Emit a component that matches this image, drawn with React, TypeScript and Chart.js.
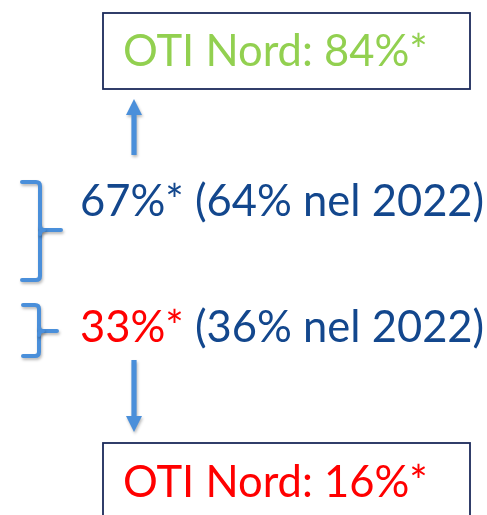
import React, { useEffect, useRef } from "react";
import { Chart, registerables } from "chart.js";

Chart.register(...registerables);

// ---- data ----
const groupLabel = "OTI Nord";
const otiNordShares = [84, 16]; // upper box, lower box
const shares2023 = [67, 33];
const shares2022 = [64, 36];
const compareYear = "2022";

// ---- styles ----
const GREEN = "#92D050";
const RED = "#FF0000";
const NAVY_TEXT = "#13478D";
const BOX_BORDER = "#1B2A5A";
const ARROW_BLUE = "#4A8FDA";
const FONT = "Lato, 'Open Sans', sans-serif";
const FONT_SIZE = 43.5;

const W = 487;
const H = 515;

const annotationPlugin = {
  id: "annotations",
  afterDraw(chart: any) {
    const { ctx } = chart;
    const xs = chart.scales.x;
    const ys = chart.scales.y;
    const px = (v: number) => xs.getPixelForValue(v);
    const py = (v: number) => ys.getPixelForValue(v);

    ctx.save();

    // boxes
    const drawBox = (x0: number, y0: number, x1: number, y1: number) => {
      ctx.save();
      ctx.strokeStyle = BOX_BORDER;
      ctx.lineWidth = 1.8;
      ctx.strokeRect(px(x0), py(y0), px(x1) - px(x0), py(y1) - py(y0));
      ctx.restore();
    };
    drawBox(103, 13, 470, 89);
    drawBox(103, 443, 470, 540);

    // texts
    ctx.font = `${FONT_SIZE}px ${FONT}`;
    ctx.textBaseline = "alphabetic";
    ctx.textAlign = "left";

    ctx.fillStyle = GREEN;
    ctx.fillText(`${groupLabel}: ${otiNordShares[0]}%*`, px(123), py(66));

    ctx.fillStyle = RED;
    ctx.fillText(`${groupLabel}: ${otiNordShares[1]}%*`, px(123), py(497));

    // row 1
    ctx.fillStyle = NAVY_TEXT;
    ctx.fillText(
      `${shares2023[0]}%* (${shares2022[0]}% nel ${compareYear})`,
      px(80),
      py(216)
    );

    // row 2
    const first = `${shares2023[1]}%*`;
    ctx.fillStyle = RED;
    ctx.fillText(first, px(80), py(342));
    const w1 = ctx.measureText(first).width;
    ctx.fillStyle = NAVY_TEXT;
    ctx.fillText(` (${shares2022[1]}% nel ${compareYear})`, px(80) + w1, py(342));

    // shadows for shapes
    ctx.shadowColor = "rgba(0,0,0,0.28)";
    ctx.shadowBlur = 3;
    ctx.shadowOffsetX = 1;
    ctx.shadowOffsetY = 2;

    // arrows
    const drawArrow = (x: number, yTail: number, yTip: number) => {
      const dir = yTip < yTail ? -1 : 1;
      const headLen = 16;
      const headHalf = 8;
      const shaftHalf = 2.6;
      const yBase = yTip - dir * headLen;
      ctx.fillStyle = ARROW_BLUE;
      ctx.beginPath();
      ctx.moveTo(px(x - shaftHalf), py(yTail));
      ctx.lineTo(px(x + shaftHalf), py(yTail));
      ctx.lineTo(px(x + shaftHalf), py(yBase));
      ctx.lineTo(px(x + headHalf), py(yBase));
      ctx.lineTo(px(x), py(yTip));
      ctx.lineTo(px(x - headHalf), py(yBase));
      ctx.lineTo(px(x - shaftHalf), py(yBase));
      ctx.closePath();
      ctx.fill();
    };
    drawArrow(134, 155, 99);
    drawArrow(134, 360, 432);

    // brackets
    const drawBrace = (xl: number, xv: number, xt: number, yTop: number, yBot: number, yMid: number) => {
      const r = 4;
      ctx.strokeStyle = ARROW_BLUE;
      ctx.lineWidth = 4;
      ctx.lineCap = "round";
      ctx.lineJoin = "round";
      ctx.beginPath();
      ctx.moveTo(px(xl), py(yTop));
      ctx.lineTo(px(xv - r), py(yTop));
      ctx.quadraticCurveTo(px(xv), py(yTop), px(xv), py(yTop + r));
      ctx.lineTo(px(xv), py(yBot - r));
      ctx.quadraticCurveTo(px(xv), py(yBot), px(xv - r), py(yBot));
      ctx.lineTo(px(xl), py(yBot));
      ctx.stroke();
      ctx.beginPath();
      ctx.moveTo(px(xv), py(yMid - r));
      ctx.quadraticCurveTo(px(xv), py(yMid), px(xv + r), py(yMid));
      ctx.lineTo(px(xt), py(yMid));
      ctx.stroke();
      ctx.beginPath();
      ctx.moveTo(px(xv), py(yMid + r));
      ctx.quadraticCurveTo(px(xv), py(yMid), px(xv + r), py(yMid));
      ctx.stroke();
    };
    drawBrace(22, 40, 61, 182, 280, 230);
    drawBrace(23, 39, 57, 305, 356, 331);

    ctx.restore();
  },
};

export default function App() {
  const ref = useRef<HTMLCanvasElement | null>(null);

  useEffect(() => {
    document.body.style.margin = "0";
    document.body.style.background = "#ffffff";
    const canvas = ref.current;
    if (!canvas) return;
    const chart = new Chart(canvas, {
      type: "scatter",
      data: { datasets: [{ data: [], showLine: false, pointRadius: 0 }] },
      options: {
        animation: false,
        responsive: false,
        maintainAspectRatio: false,
        events: [],
        layout: { padding: 0 },
        plugins: { legend: { display: false }, tooltip: { enabled: false }, title: { display: false } },
        scales: {
          x: { type: "linear", min: 0, max: W, display: false },
          y: { type: "linear", min: 0, max: H, reverse: true, display: false },
        },
      },
      plugins: [annotationPlugin],
    });
    return () => chart.destroy();
  }, []);

  return (
    <div style={{ width: W, height: H, background: "#fff" }}>
      <canvas ref={ref} width={W} height={H} style={{ display: "block" }} />
    </div>
  );
}
